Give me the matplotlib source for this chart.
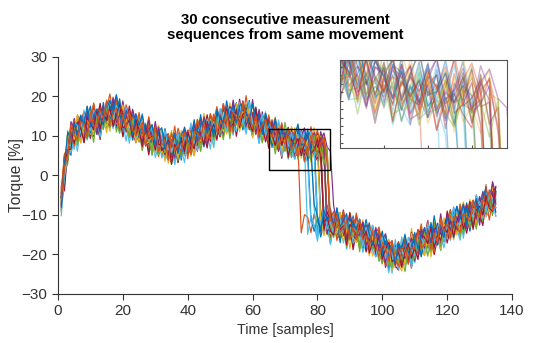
import numpy as np
import matplotlib
matplotlib.use("Agg")
import matplotlib.pyplot as plt
from matplotlib.patches import Rectangle

plt.rcParams["font.family"] = ["Liberation Sans", "DejaVu Sans"]

# mean torque before the drop, samples 1..90
upper = [-6, 1, 7, 9.5, 11, 11.5, 12, 12.3, 12.8, 13.3,
         13.5, 14, 14.3, 14.7, 15, 15.5, 15.8, 15.3, 14.8, 14.2,
         13.7, 13.2, 12.6, 12, 11.5, 11, 10.5, 10, 9.5, 9,
         8.5, 8, 7.5, 7, 7, 7.5, 7.5, 8, 8, 8.5,
         9, 9.5, 10, 10.5, 11, 11.5, 12, 12.3, 12.7, 13.2,
         13.6, 14, 14.3, 14.7, 15, 15.2, 15, 14.8, 14.5, 14,
         13.5, 13, 12.5, 12, 11, 10.5, 10, 9.5, 9, 9,
         8.5, 8.5, 8, 8, 8, 7.5, 7.5, 7.5, 7.5, 7.5,
         7.5, 7, 7, 7, 7, 7, 7, 7, 7, 7]

# mean torque after the drop, samples 70..135
lower = [-9, -9.5, -10, -10, -10.5, -10.5, -11, -11, -11.5, -11.5,
         -12, -12, -12, -12.5, -12.5, -12.5, -13, -13, -13, -13.5,
         -13.5, -14, -14, -14.5, -15, -15.5, -16, -16.5, -17, -17.5,
         -18.5, -19, -19.5, -20, -20.5, -20.5, -20, -19.5, -19, -18.5,
         -18, -17.5, -17, -16.5, -16, -16, -15.5, -15, -14.5, -14,
         -13.5, -13, -12.5, -12, -11.5, -11, -10.5, -10, -9.5, -9,
         -8.5, -8, -7.5, -7, -6.5, -6]

# sample where each sequence drops, last sample, level bias
drops = [82, 75, 83, 84, 81, 77, 83, 78, 82, 84,
         83, 80, 79, 84, 81, 83, 82, 85, 83, 78,
         82, 80, 84, 81, 83, 84, 80, 82, 79, 84]
ends = [135, 134, 135, 135, 133, 135, 134, 135, 132, 135,
        135, 134, 135, 133, 135, 135, 134, 135, 131, 135,
        134, 135, 135, 133, 135, 134, 135, 135, 132, 135]
bias = [0.4, -0.8, 1.2, -0.3, 0.7, -1.4, 0.1, -0.6, 1.5, -1.1,
        0.9, -0.2, 0.5, -1.3, 1.0, -0.5, 0.3, 1.3, -0.9, -1.5,
        0.6, -0.1, 1.1, -0.7, 0.2, -1.2, 0.8, -0.4, 1.4, 0.0]

# measurement jitter, each sequence reads its own window of it
jitter = [0.8, -1.5, 2.1, -0.4, 1.2, -2.6, 0.3, 1.9, -1.1, 0.6,
          -2.2, 1.4, -0.7, 2.5, -1.8, 0.2, 1.1, -0.9, -2.4, 1.7,
          0.5, -1.3, 2.8, -0.6, -1.9, 1.0, 0.4, -2.7, 1.6, -0.2,
          2.2, -1.0, -0.3, 1.5, -2.1, 0.9, 2.0, -1.6, 0.1, -0.8,
          1.3, -2.5, 0.7, 1.8, -1.2, -0.5, 2.4, -2.0, 0.6, 1.1,
          -1.7, 0.3, -2.9, 1.9, 0.0, -1.4, 2.6, -0.9, 1.2, -2.3,
          0.8, 1.4, -0.1, -1.8, 2.1, -0.7, 0.5, -2.6, 1.7, 0.2,
          -1.1, 2.3, -1.5, 0.9, -0.4, 1.6, -2.2, 0.4, 2.7, -1.3,
          -0.6, 1.0, -1.9, 2.0, 0.3, -2.4, 1.3, -0.2, 0.7, -1.6,
          2.5, -1.0, 0.1, 1.8, -2.8, 0.6, -0.8, 1.5, -1.2, 2.2,
          -0.3, -1.7, 1.1, 0.5, -2.1, 1.9, -0.5, 0.8, -2.5, 1.4,
          0.0, 2.4, -1.4, -0.9, 1.6, -2.0, 0.7, 1.2, -0.6, -1.8,
          2.9, -1.1, 0.4, -2.3, 1.0, 0.2, -1.5, 2.1, -0.7, 1.7,
          -2.6, 0.9, -0.1, 1.3, -1.9, 0.6, 2.3, -1.2, -0.4, 1.5,
          -2.2, 0.3, 1.8, -0.8, -1.6, 2.6, -0.2, 0.5, -2.7, 1.1,
          0.8, -1.3, 2.0, -0.5, 1.4, -2.4, 0.1, -0.9, 1.9, -1.7,
          0.6, 2.2, -1.0, -0.3, 1.2, -2.1, 0.4, 1.6, -1.4, 0.0,
          -2.5, 1.7, 0.9, -0.6, 2.4, -1.8, 0.2, -1.1, 1.0, -0.4,
          1.5, -2.0, 0.7, 2.1, -1.5, -0.2, 1.3, -2.8, 0.5, 0.8,
          -1.2, 1.9, -0.7, -1.6, 2.7, -0.1, 0.3, -2.3, 1.4, -0.9]
offsets = [0, 37, 12, 58, 25, 6, 44, 19, 63, 31,
           3, 50, 15, 40, 9, 55, 22, 61, 28, 47,
           1, 34, 17, 53, 11, 42, 27, 60, 5, 38]
signs = [1, -1, 1, 1, -1, 1, -1, -1, 1, -1,
         1, -1, 1, 1, -1, 1, -1, 1, -1, 1,
         1, -1, -1, 1, -1, 1, -1, 1, 1, -1]

colors = ["#0072BD", "#D95319", "#EDB120", "#7E2F8E",
          "#77AC30", "#4DBEEE", "#A2142F"]

upper = np.array(upper)
lower = np.array(lower)
jitter = np.array(jitter)

series = []
for i in range(len(drops)):
    d, e = drops[i], ends[i]
    base = np.concatenate([upper[:d - 1], lower[d - 70:e - 69]])
    noise = signs[i] * 1.35 * jitter[offsets[i]:offsets[i] + len(base)]
    series.append((np.arange(1, e + 1), base + noise + bias[i]))

fig = plt.figure(figsize=(5.54, 3.43), dpi=100)
ax = fig.add_axes([0.1047, 0.1429, 0.8195, 0.6910])
for i, (x, y) in enumerate(series):
    ax.plot(x, y, color=colors[i % 7], lw=0.85)

ax.set_xlim(0, 140)
ax.set_ylim(-30, 30)
ax.set_xticks(range(0, 141, 20))
ax.set_yticks(range(-30, 31, 10))
for s in ["top", "right"]:
    ax.spines[s].set_visible(False)
for s in ["left", "bottom"]:
    ax.spines[s].set_color("#333333")
ax.tick_params(direction="out", length=4, width=0.8, labelsize=11, colors="#333333")
ax.set_xlabel("Time [samples]", fontsize=10.3, color="#333333", labelpad=3)
ax.set_ylabel("Torque [%]", fontsize=11.2, color="#333333")
ax.yaxis.set_label_coords(-0.075, 0.5)
ax.set_title("30 consecutive measurement\nsequences from same movement",
             fontsize=10.8, fontweight="bold", linespacing=1.05, pad=13)

ax.add_patch(Rectangle((65, 1.4), 19, 10.4, fill=False, ec="black", lw=1, zorder=5))

axin = fig.add_axes([0.6137, 0.5685, 0.3014, 0.2566])
for i, (x, y) in enumerate(series):
    axin.plot(x, y, color=colors[i % 7], lw=1, alpha=0.4)
axin.set_xlim(65, 84)
axin.set_ylim(1.4, 11.8)
axin.set_xticks([70, 75, 80])
axin.set_yticks(np.arange(2, 12, 1))
axin.tick_params(direction="in", length=2, labelbottom=False, labelleft=False,
                 colors="#555555")
for s in axin.spines.values():
    s.set_color("#555555")
    s.set_linewidth(0.8)

fig.savefig("out.png", dpi=100)
